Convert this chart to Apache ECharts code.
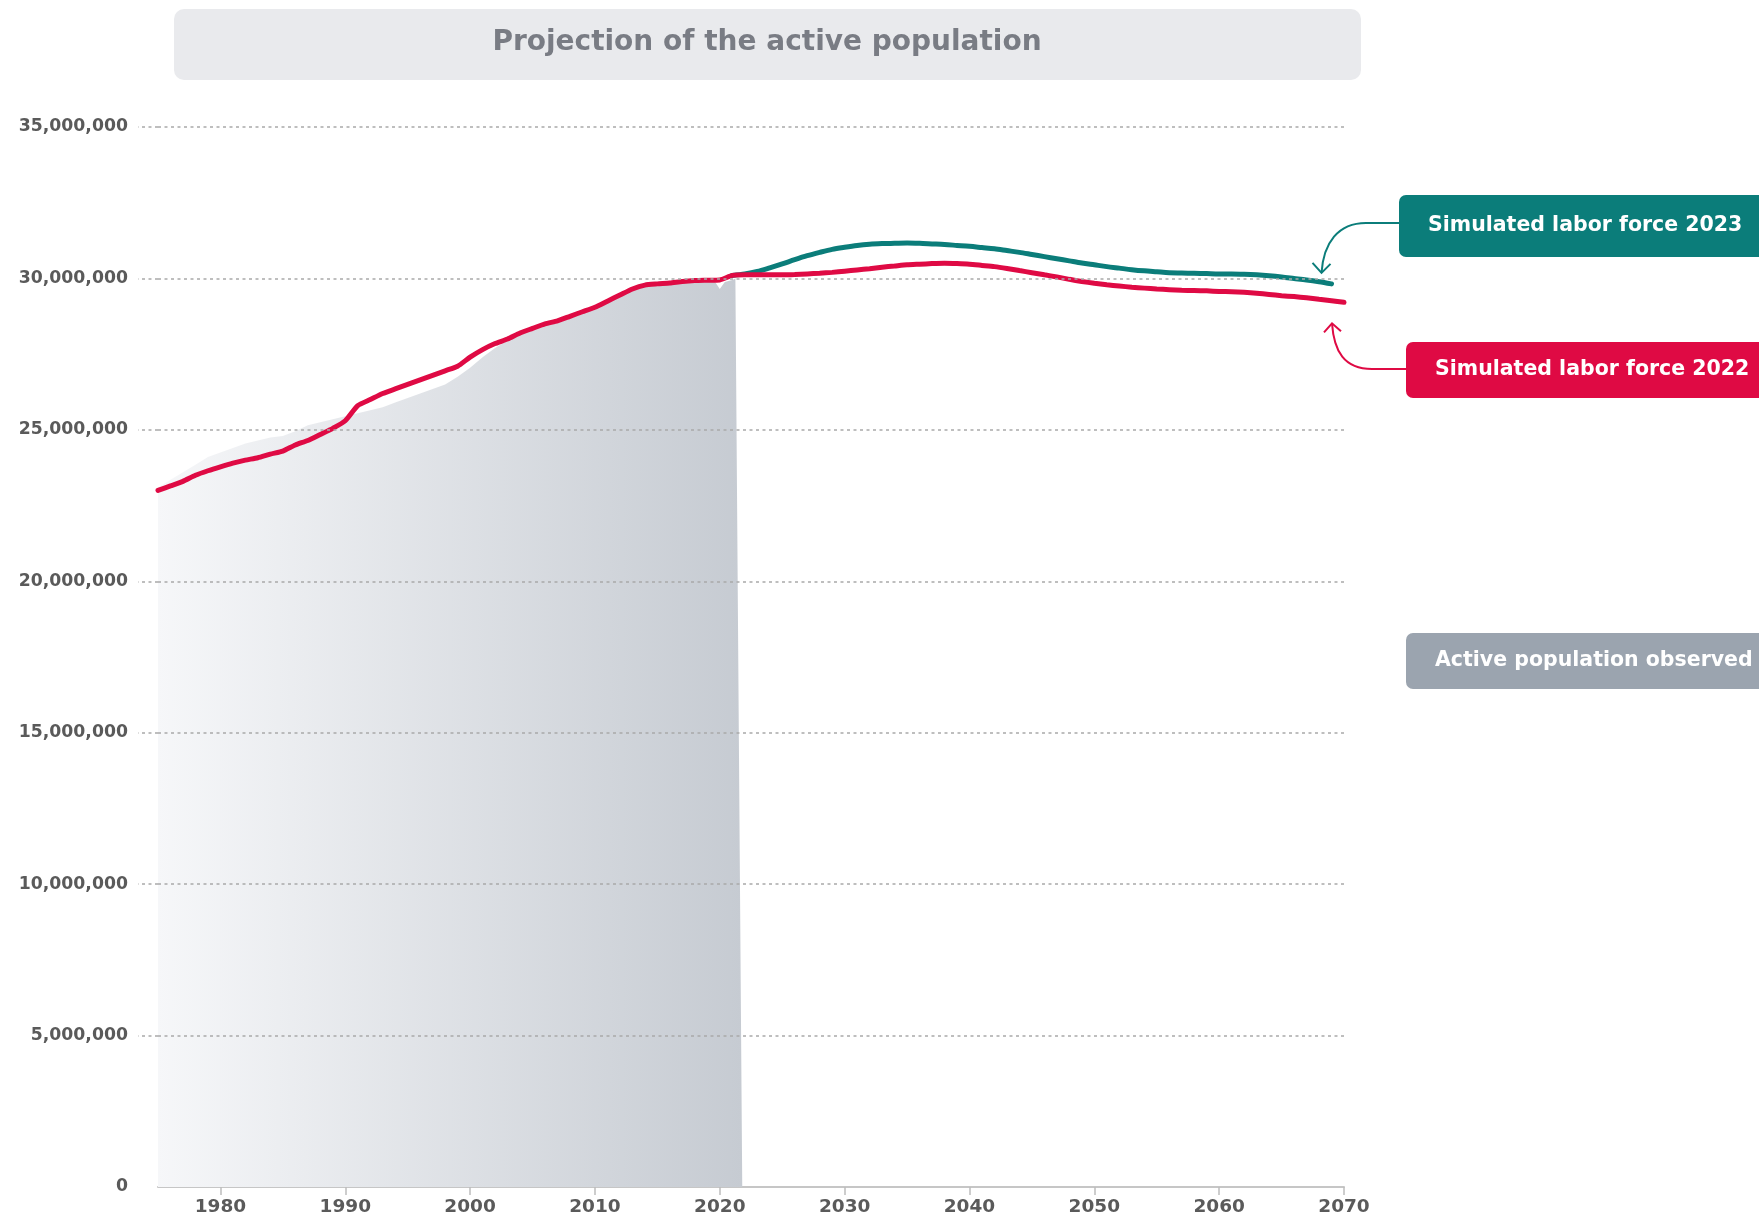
<!DOCTYPE html>
<html><head><meta charset="utf-8">
<script src="https://cdn.jsdelivr.net/npm/echarts@6/dist/echarts.min.js"></script>
<style>html,body{margin:0;padding:0;background:#fff}#c{width:1759px;height:1222px}</style>
</head><body><div id="c"></div>
<script>
const chartTitle = "Projection of the active population";
const labelSim2023 = "Simulated labor force 2023";
const labelSim2022 = "Simulated labor force 2022";
const labelObserved = "Active population observed";

const xTicks = [1980, 1990, 2000, 2010, 2020, 2030, 2040, 2050, 2060, 2070];
const yTicks = [0, 5000000, 10000000, 15000000, 20000000, 25000000, 30000000, 35000000];

// Observed active population (millions)
const obsYears = [1975,1976,1977,1978,1979,1980,1981,1982,1983,1984,1985,1986,1987,1988,1989,1990,
  1991,1992,1993,1994,1995,1996,1997,1998,1999,2000,2001,2002,2003,2004,2005,2006,2007,2008,2009,2010,
  2011,2012,2013,2014,2015,2016,2017,2018,2019,2019.6,2020,2020.4,2021,2021.25,2021.8];
const obsValues = [23.1,23.35,23.6,23.85,24.1,24.25,24.4,24.55,24.65,24.75,24.8,24.95,25.15,25.25,25.35,25.45,
  25.55,25.65,25.75,25.9,26.05,26.2,26.35,26.5,26.75,27.05,27.4,27.7,27.95,28.15,28.35,28.5,28.6,28.8,28.95,29.1,
  29.3,29.5,29.7,29.78,29.82,29.85,29.88,29.9,29.92,29.9,29.65,29.88,29.95,30.0,0];

// Simulated labor force 2022 (millions), 1975..2070
const sim2022Start = 1975;
const sim2022Values = [23.0,23.15,23.3,23.5,23.65,23.78,23.9,24.0,24.08,24.2,
  24.3,24.5,24.65,24.85,25.05,25.3,25.8,26.0,26.2,26.35,
  26.5,26.65,26.8,26.95,27.1,27.4,27.65,27.85,28.0,28.2,
  28.35,28.5,28.6,28.75,28.9,29.05,29.25,29.45,29.65,29.78,
  29.82,29.85,29.9,29.93,29.94,29.95,30.1,30.12,30.12,30.12,
  30.12,30.13,30.15,30.17,30.2,30.24,30.28,30.32,30.37,30.41,
  30.45,30.47,30.49,30.5,30.49,30.47,30.43,30.39,30.33,30.26,
  30.19,30.12,30.05,29.97,29.9,29.84,29.79,29.75,29.71,29.68,
  29.65,29.63,29.61,29.6,29.59,29.57,29.56,29.54,29.51,29.47,
  29.43,29.4,29.36,29.31,29.26,29.21];

// Simulated labor force 2023 (millions), 2021..2069
const sim2023Start = 2021;
const sim2023Values = [30.1,30.15,30.23,30.35,30.48,30.62,30.75,30.86,30.96,31.03,
  31.09,31.13,31.15,31.16,31.17,31.16,31.14,31.12,31.09,31.06,
  31.02,30.98,30.92,30.86,30.79,30.72,30.65,30.58,30.51,30.45,
  30.39,30.34,30.29,30.25,30.22,30.19,30.18,30.17,30.16,30.15,
  30.15,30.14,30.12,30.09,30.05,30.0,29.95,29.89,29.82];

const M = 1e6;
const obsData = obsYears.map((y, i) => [y, obsValues[i] * M]);
const sim2022Data = sim2022Values.map((v, i) => [sim2022Start + i, v * M]);
const sim2023Data = sim2023Values.map((v, i) => [sim2023Start + i, v * M]);

const FONT = "DejaVu Sans";
const TEAL = "#0b7d7a";
const RED = "#df0a44";
const GREYBOX = "#9ba4af";

const chart = echarts.init(document.getElementById('c'), null, {renderer: 'canvas'});
const dotted = {color: '#a9a9a9', width: 1.5, type: [3, 3.5]};

chart.setOption({
  animation: false,
  backgroundColor: '#ffffff',
  grid: {left: 158, right: 415, top: 127, bottom: 35, containLabel: false},
  xAxis: {
    type: 'value', min: 1975, max: 2070,
    axisLine: {show: true, lineStyle: {color: '#c6c6c6', width: 2}},
    axisTick: {show: true, length: 8, customValues: xTicks, lineStyle: {color: '#bdbdbd', width: 1.5}},
    axisLabel: {customValues: xTicks, margin: 11, color: '#5a5a5a', fontFamily: FONT, fontWeight: 'bold', fontSize: 18.5,
      formatter: v => String(v)},
    splitLine: {show: false}
  },
  yAxis: {
    type: 'value', min: 0, max: 35000000, interval: 5000000, z: 5,
    axisLine: {show: false},
    axisTick: {show: true, length: 20, customValues: yTicks.filter(v => v > 0), lineStyle: dotted},
    axisLabel: {customValues: yTicks, margin: 30, color: '#5a5a5a', fontFamily: FONT, fontWeight: 'bold', fontSize: 17.3,
      formatter: v => v === 0 ? '0' : Number(v).toLocaleString('en-US')},
    splitLine: {show: true, lineStyle: dotted}
  },
  series: [
    {
      name: labelObserved, type: 'line', data: obsData, showSymbol: false, z: 1,
      lineStyle: {width: 0},
      areaStyle: {opacity: 1, color: new echarts.graphic.LinearGradient(0, 0, 1, 0, [
        {offset: 0, color: '#f6f7f9'}, {offset: 1, color: '#c6cbd2'}])}
    },
    {
      name: labelSim2023, type: 'line', data: sim2023Data, showSymbol: false, smooth: 0.3, z: 2,
      lineStyle: {width: 5, color: TEAL, cap: 'round'}
    },
    {
      name: labelSim2022, type: 'line', data: sim2022Data, showSymbol: false, smooth: 0.2, z: 3,
      lineStyle: {width: 5, color: RED, cap: 'round'}
    }
  ]
});

function boxGroup(x, y, h, color, text) {
  return {
    type: 'group', children: [
      {type: 'rect', shape: {x: x, y: y, width: 420, height: h, r: 7}, style: {fill: color}},
      {type: 'text', x: x + 29, y: y + h / 2, style: {text: text, fill: '#ffffff', font: 'bold 20.5px "' + FONT + '"',
        textVerticalAlign: 'middle', verticalAlign: 'middle'}}
    ]
  };
}

const endTeal = chart.convertToPixel({gridIndex: 0}, sim2023Data[sim2023Data.length - 1]);
const endRed = chart.convertToPixel({gridIndex: 0}, sim2022Data[sim2022Data.length - 1]);
const tTip = [endTeal[0] - 10, endTeal[1] - 11];
const rTip = [endRed[0] - 12, endRed[1] + 21];

chart.setOption({
  graphic: [
    {type: 'rect', shape: {x: 174, y: 9, width: 1187, height: 71, r: 10}, style: {fill: '#e9eaed'}},
    {type: 'text', x: 767, y: 43, style: {text: chartTitle, fill: '#797c84', font: 'bold 28px "' + FONT + '"',
      align: 'center', textAlign: 'center', verticalAlign: 'middle', textVerticalAlign: 'middle'}},
    boxGroup(1399, 195, 62, TEAL, labelSim2023),
    boxGroup(1406, 342, 56, RED, labelSim2022),
    boxGroup(1406, 633, 56, GREYBOX, labelObserved),
    {type: 'line', shape: {x1: 1399, y1: 223, x2: 1366, y2: 223}, style: {stroke: TEAL, lineWidth: 2}},
    {type: 'bezierCurve', shape: {x1: 1366, y1: 223, cpx1: 1338, cpy1: 223, cpx2: tTip[0] + 2, cpy2: tTip[1] - 30, x2: tTip[0], y2: tTip[1]},
      style: {stroke: TEAL, lineWidth: 2, fill: null}},
    {type: 'polyline', shape: {points: [[tTip[0] - 9, tTip[1] - 10], tTip, [tTip[0] + 9, tTip[1] - 9]]},
      style: {stroke: TEAL, lineWidth: 2, fill: null}},
    {type: 'line', shape: {x1: 1406, y1: 369, x2: 1372, y2: 369}, style: {stroke: RED, lineWidth: 2}},
    {type: 'bezierCurve', shape: {x1: 1372, y1: 369, cpx1: 1344, cpy1: 369, cpx2: rTip[0] + 2, cpy2: rTip[1] + 28, x2: rTip[0], y2: rTip[1]},
      style: {stroke: RED, lineWidth: 2, fill: null}},
    {type: 'polyline', shape: {points: [[rTip[0] - 8, rTip[1] + 9], rTip, [rTip[0] + 9, rTip[1] + 8]]},
      style: {stroke: RED, lineWidth: 2, fill: null}}
  ]
});
</script>
</body></html>
